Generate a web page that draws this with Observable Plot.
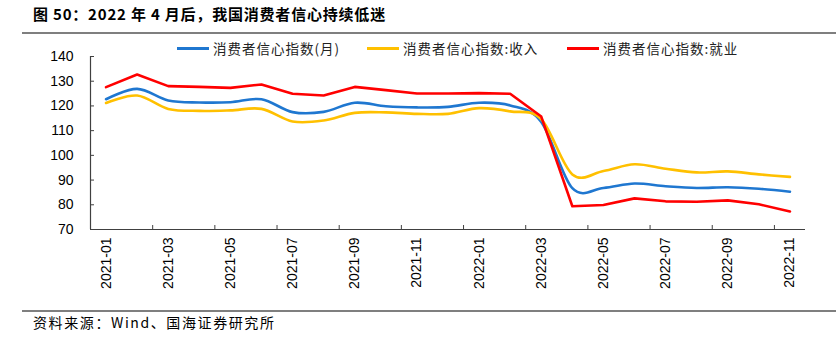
<!DOCTYPE html>
<html>
<head>
<meta charset="utf-8">
<script src="https://cdn.jsdelivr.net/npm/d3@7"></script>
<script src="https://cdn.jsdelivr.net/npm/@observablehq/plot@0.6"></script>
<style>
  html, body { margin: 0; padding: 0; background: #fff; }
  #wrap { position: relative; width: 836px; height: 340px; overflow: hidden; }
  .cjk { font-family: "Noto Sans CJK SC", sans-serif; color: #000; position: absolute; white-space: nowrap; }
  #title { left: 33px; top: 3px; font-size: 15px; font-weight: 600; letter-spacing: 0.8px; }
  .hline { position: absolute; left: 22px; width: 814px; height: 2px; background: #7f7f7f; }
  #source { left: 33px; top: 312px; font-size: 14px; letter-spacing: 1.6px; }
  .leg { position: absolute; top: 38px; height: 20px; }
  .leg .sw { position: absolute; top: 9px; width: 32px; height: 3px; }
  .leg .lt { position: absolute; left: 36px; top: 0; font-size: 13.5px; font-family: "Noto Sans CJK SC", sans-serif; white-space: nowrap; color: #222; letter-spacing: 1px; }
  #chart { position: absolute; left: 0; top: 40px; }
</style>
</head>
<body>
<div id="wrap">
  <div id="title" class="cjk">图 50：2022 年 4 月后，我国消费者信心持续低迷</div>
  <div class="hline" style="top:32px"></div>
  <div id="legend"></div>
  <div id="chart"></div>
  <div class="hline" style="top:310px"></div>
  <div id="source" class="cjk">资料来源：Wind、国海证券研究所</div>
</div>
<script>
const months = ["2021-01","2021-02","2021-03","2021-04","2021-05","2021-06","2021-07","2021-08","2021-09","2021-10","2021-11","2021-12",
                "2022-01","2022-02","2022-03","2022-04","2022-05","2022-06","2022-07","2022-08","2022-09","2022-10","2022-11"];
const confidence = [122.7,126.9,122.2,121.4,121.5,122.7,117.5,117.6,121.3,119.9,119.4,119.6,121.3,120.2,113.5,86.7,86.8,88.6,87.5,86.8,87.1,86.5,85.3];
const income     = [121.2,124.2,118.8,118.0,118.2,118.8,113.7,114.1,117.2,117.4,116.8,116.8,119.1,117.8,114.6,92.3,93.7,96.4,94.6,93.1,93.5,92.3,91.3];
const employment = [127.6,132.7,128.0,127.7,127.3,128.7,124.9,124.2,127.7,126.4,125.0,125.0,125.2,124.9,115.7,79.4,79.9,82.6,81.4,81.2,81.8,80.2,77.3];
const seriesNames = ["消费者信心指数(月)","消费者信心指数:收入","消费者信心指数:就业"];
const seriesColors = ["#1f77d0","#ffc000","#ff0000"];
const yTicks = [70,80,90,100,110,120,130,140];

const rows = (vals) => vals.map((v, i) => ({i, v}));
const labelIdx = months.map((m, i) => i).filter(i => i % 2 === 0);
const boundaries = months.map((m, i) => i + 0.5).filter((b, k) => k % 2 === 1 && b < months.length - 1);

// legend
const legendX = [177, 367, 567];
const legend = document.getElementById("legend");
seriesNames.forEach((n, k) => {
  const d = document.createElement("div");
  d.className = "leg";
  d.style.left = legendX[k] + "px";
  d.innerHTML = `<div class="sw" style="background:${seriesColors[k]}"></div><div class="lt">${n}</div>`;
  legend.appendChild(d);
});

const chart = Plot.plot({
  width: 836,
  height: 270,
  marginTop: 16,
  marginBottom: 81,
  marginLeft: 90,
  marginRight: 31,
  style: {fontFamily: "'Liberation Sans', Arial, sans-serif", fontSize: "14px", color: "#000", background: "transparent"},
  x: {type: "linear", domain: [-0.5, months.length - 0.5]},
  y: {domain: [70, 140]},
  marks: [
    Plot.line(rows(confidence), {x: "i", y: "v", stroke: seriesColors[0], strokeWidth: 2.6, curve: "cardinal"}),
    Plot.line(rows(income), {x: "i", y: "v", stroke: seriesColors[1], strokeWidth: 2.6, curve: "cardinal"}),
    Plot.line(rows(employment), {x: "i", y: "v", stroke: seriesColors[2], strokeWidth: 2.6, curve: "linear"}),
    Plot.ruleY([70], {stroke: "#404040", strokeWidth: 1.2}),
    Plot.ruleX([-0.5], {stroke: "#404040", strokeWidth: 1.2}),
    Plot.axisY({ticks: yTicks, tickSize: 0, tickPadding: 17, label: null, fontSize: 14}),
    Plot.axisY({ticks: yTicks, tickSize: 4, tickFormat: () => "", label: null, dx: 4, stroke: "#404040"}),
    Plot.axisX({ticks: labelIdx, tickSize: 0, tickPadding: 8, tickRotate: -90, tickFormat: i => months[i], label: null, fontSize: 14}),
    Plot.axisX({ticks: boundaries, tickSize: 4, tickFormat: () => "", label: null, dy: -4, stroke: "#404040"})
  ]
});
document.getElementById("chart").appendChild(chart);
</script>
</body>
</html>
